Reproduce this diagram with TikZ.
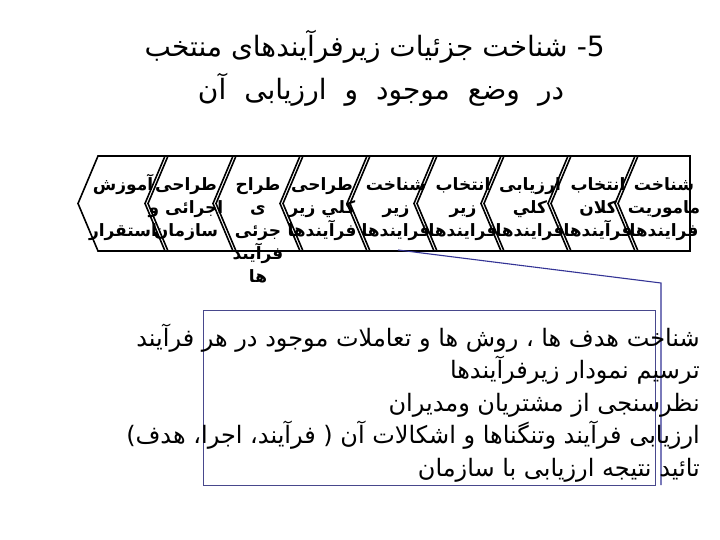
\documentclass[tikz,border=0pt]{standalone}
\usepackage{fontspec}
\TeXXeTstate=1
\newfontfamily\arabicfont[Script=Arabic]{DejaVu Sans}
\newfontfamily\latinsans{DejaVu Sans}
\definecolor{boxblue}{RGB}{72,72,140}
\definecolor{leadblue}{RGB}{52,52,150}
\newcommand\rtlcol[1]{\vtop{\halign{\hfil##\hfil\cr#1\crcr}}}
\newcommand\chevpath[2]{(#1,156) -- (#2,156) -- ({#2-20},203.5) -- (#2,251) -- (#1,251) -- ({#1-20},203.5) -- cycle}
\tikzset{
  chev/.style={draw=black, line width=1.6pt, line join=miter},
  ctext/.style={font=\arabicfont\bfseries\fontsize{17}{23}\selectfont, anchor=base, inner sep=0pt},
  ttext/.style={font=\arabicfont\fontsize{28}{34}\selectfont, anchor=base east, inner sep=0pt},
  btext/.style={font=\arabicfont\fontsize{24}{28}\selectfont, anchor=base east, inner sep=0pt},
  leader/.style={draw=leadblue, line width=1.1pt},
}
\begin{document}
\begin{tikzpicture}[x=1pt,y=-1pt]
\useasboundingbox (0,0) rectangle (720,540);
\fill[white] (0,0) rectangle (720,540);
% title
\node[font=\latinsans\fontsize{28}{34}\selectfont, anchor=base east, inner sep=0pt] (num) at (605,57) {-5};
\node[ttext, anchor=base east] (title1) at ([xshift=-9pt]num.base west) {\beginR شناخت جزئیات زیرفرآیندهای منتخب\endR};
\node[ttext, anchor=base] (title2) at (381,100) {\spaceskip=18pt plus 2pt minus 2pt\relax\beginR در وضع موجود و ارزیابی آن\endR};
% chevrons
\draw[chev] \chevpath{98}{168};
\draw[chev] \chevpath{165}{236};
\draw[chev] \chevpath{233}{303};
\draw[chev] \chevpath{300}{370};
\draw[chev] \chevpath{367}{437};
\draw[chev] \chevpath{434}{504};
\draw[chev] \chevpath{501}{571};
\draw[chev] \chevpath{568}{638};
\draw[chev] (635,156) -- (690,156) -- (690,251) -- (635,251) -- (615,203.5) -- cycle;
% chevron texts
\node[ctext] (s1) at (123,191) {\rtlcol{\beginR آموزش\endR\cr\cr\beginR استقرار\endR}};
\node[ctext] (s2) at (186,191) {\rtlcol{\beginR طراحی\endR\cr\beginR اجرائی و\endR\cr\beginR سازمان\endR}};
\node[ctext] (s3) at (258,191) {\rtlcol{\beginR طراح\endR\cr\beginR ی\endR\cr\beginR جزئی\endR\cr\beginR فرآیند\endR\cr\beginR ها\endR}};
\node[ctext] (s4) at (322,191) {\rtlcol{\beginR طراحی\endR\cr\beginR كلي زير\endR\cr\beginR فرآيندها\endR}};
\node[ctext] (s5) at (396,191) {\rtlcol{\beginR شناخت\endR\cr\beginR زير\endR\cr\beginR فرايندها\endR}};
\node[ctext] (s6) at (463,191) {\rtlcol{\beginR انتخاب\endR\cr\beginR زير\endR\cr\beginR فرايندها\endR}};
\node[ctext] (s7) at (530,191) {\rtlcol{\beginR ارزيابی\endR\cr\beginR كلي\endR\cr\beginR فرايندها\endR}};
\node[ctext] (s8) at (598,191) {\rtlcol{\beginR انتخاب\endR\cr\beginR كلان\endR\cr\beginR فرآيندها\endR}};
\node[ctext] (s9) at (664,191) {\rtlcol{\beginR شناخت\endR\cr\beginR ماموريت\endR\cr\beginR فرايندها\endR}};
% callout box
\node[draw=boxblue, line width=1.2pt, anchor=north west, inner sep=0pt,
      minimum width=452pt, minimum height=175pt] (box) at (203,310) {};
\coordinate (c5b) at (398,250);
\coordinate (bend) at (661,283);
\coordinate (barend) at (661,485);
\draw[leader] (c5b) -- (bend) -- (barend);
% box text
\node[btext] (l1) at (700,346) {\beginR شناخت هدف ها ، روش ها و تعاملات موجود در هر فرآیند\endR};
\node[btext] (l2) at (700,378.5) {\beginR ترسیم نمودار زیرفرآیندها\endR};
\node[btext] (l3) at (700,411) {\beginR نظرسنجی از مشتریان ومدیران\endR};
\node[btext] (l4) at (700,443.5) {\beginR ارزیابی فرآیند وتنگناها و اشکالات آن ( فرآیند، اجرا، هدف)\endR};
\node[btext] (l5) at (700,476) {\beginR تائید نتیجه ارزیابی با سازمان\endR};
\end{tikzpicture}
\end{document}
